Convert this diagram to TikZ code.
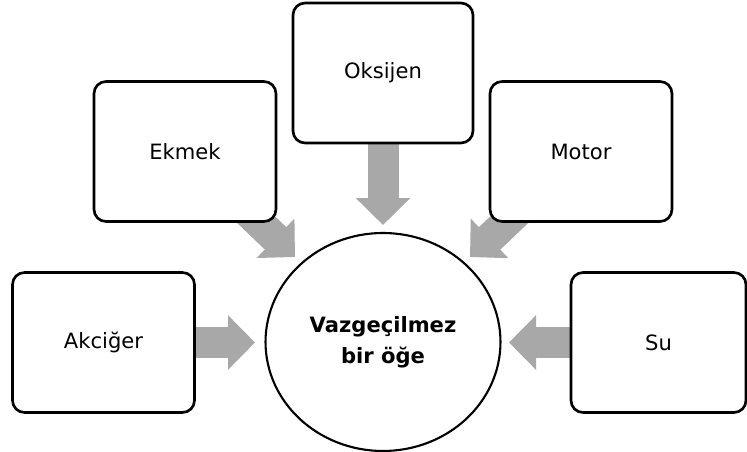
\documentclass[tikz,border=0pt]{standalone}
\usepackage{fontspec}
\setmainfont{DejaVu Sans}
\usetikzlibrary{arrows.meta,shapes.geometric,backgrounds}
\definecolor{flowgray}{HTML}{A8A8A8}

\tikzset{
  item/.style={draw, line width=1.5pt, rounded corners=0.24cm, fill=white,
    minimum width=3.64cm, minimum height=2.8cm, font=\fontsize{12}{14}\selectfont},
  hub/.style={draw, ellipse, line width=1.2pt, fill=white, minimum width=4.7cm,
    minimum height=4.36cm, align=center, font=\bfseries\fontsize{12}{17.5}\selectfont},
  flow/.style={flowgray, line width=0.62cm, -{Triangle[length=0.54cm,width=1.06cm]}}
}

\begin{document}
\begin{tikzpicture}[x=0.02cm,y=-0.02cm]
  \useasboundingbox (0,0) rectangle (747,452);
  % middle
  \node[hub] (hub) at (383,342) {Vazgeçilmez\\bir öğe};
  % boxes round it
  \node[item] (ekmek) at (185,151.5) {Ekmek};
  \node[item, minimum width=3.6cm] (oksijen) at (383,73) {Oksijen};
  \node[item] (motor) at (581,151.5) {Motor};
  \node[item] (akciger) at (103.5,342.5) {Akciğer};
  \node[item, minimum width=3.5cm] (su) at (658.5,342.5) {Su};
  % arrow tips
  \coordinate (tE) at (295,257); \coordinate (tO) at (383,225); \coordinate (tM) at (470,257);
  \coordinate (tA) at (255,342.5); \coordinate (tS) at (509,342.5);
  \begin{pgfonlayer}{background}
    \draw[flow] (ekmek.center) -- (tE);
    \draw[flow] (oksijen.center) -- (tO);
    \draw[flow] (motor.center) -- (tM);
    \draw[flow] (akciger.center) -- (tA);
    \draw[flow] (su.center) -- (tS);
  \end{pgfonlayer}
\end{tikzpicture}
\end{document}
